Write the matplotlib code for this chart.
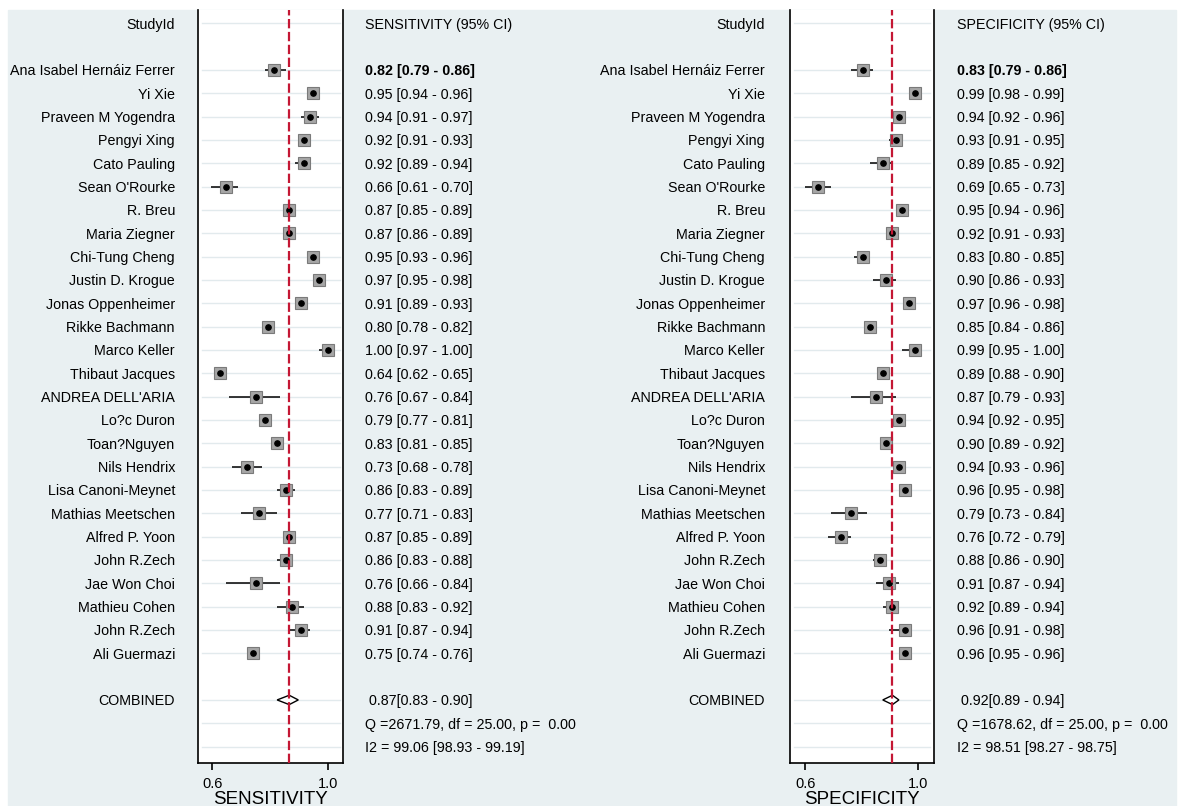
import matplotlib
matplotlib.use("Agg")
import matplotlib.pyplot as plt
from matplotlib.patches import Rectangle
from matplotlib.transforms import blended_transform_factory

plt.rcParams["font.family"] = ["Liberation Sans", "DejaVu Sans"]

# study names, top to bottom
studies = [
    "Ana Isabel Hernáiz Ferrer", "Yi Xie", "Praveen M Yogendra", "Pengyi Xing",
    "Cato Pauling", "Sean O'Rourke", "R. Breu", "Maria Ziegner", "Chi-Tung Cheng",
    "Justin D. Krogue", "Jonas Oppenheimer", "Rikke Bachmann", "Marco Keller",
    "Thibaut Jacques", "ANDREA DELL'ARIA", "Lo?c Duron", "Toan?Nguyen",
    "Nils Hendrix", "Lisa Canoni-Meynet", "Mathias Meetschen", "Alfred P. Yoon",
    "John R.Zech", "Jae Won Choi", "Mathieu Cohen", "John R.Zech", "Ali Guermazi",
]

sens = [0.82, 0.95, 0.94, 0.92, 0.92, 0.66, 0.87, 0.87, 0.95, 0.97, 0.91, 0.80, 1.00,
        0.64, 0.76, 0.79, 0.83, 0.73, 0.86, 0.77, 0.87, 0.86, 0.76, 0.88, 0.91, 0.75]
sens_lo = [0.79, 0.94, 0.91, 0.91, 0.89, 0.61, 0.85, 0.86, 0.93, 0.95, 0.89, 0.78, 0.97,
           0.62, 0.67, 0.77, 0.81, 0.68, 0.83, 0.71, 0.85, 0.83, 0.66, 0.83, 0.87, 0.74]
sens_hi = [0.86, 0.96, 0.97, 0.93, 0.94, 0.70, 0.89, 0.89, 0.96, 0.98, 0.93, 0.82, 1.00,
           0.65, 0.84, 0.81, 0.85, 0.78, 0.89, 0.83, 0.89, 0.88, 0.84, 0.92, 0.94, 0.76]

spec = [0.83, 0.99, 0.94, 0.93, 0.89, 0.69, 0.95, 0.92, 0.83, 0.90, 0.97, 0.85, 0.99,
        0.89, 0.87, 0.94, 0.90, 0.94, 0.96, 0.79, 0.76, 0.88, 0.91, 0.92, 0.96, 0.96]
spec_lo = [0.79, 0.98, 0.92, 0.91, 0.85, 0.65, 0.94, 0.91, 0.80, 0.86, 0.96, 0.84, 0.95,
           0.88, 0.79, 0.92, 0.89, 0.93, 0.95, 0.73, 0.72, 0.86, 0.87, 0.89, 0.91, 0.95]
spec_hi = [0.86, 0.99, 0.96, 0.95, 0.92, 0.73, 0.96, 0.93, 0.85, 0.93, 0.98, 0.86, 1.00,
           0.90, 0.93, 0.95, 0.92, 0.96, 0.98, 0.84, 0.79, 0.90, 0.94, 0.94, 0.98, 0.96]

# pooled estimates and heterogeneity
sens_comb = (0.87, 0.83, 0.90)
spec_comb = (0.92, 0.89, 0.94)
sens_q = "Q =2671.79, df = 25.00, p =  0.00"
spec_q = "Q =1678.62, df = 25.00, p =  0.00"
sens_i2 = "I2 = 99.06 [98.93 - 99.19]"
spec_i2 = "I2 = 98.51 [98.27 - 98.75]"

W, H = 1180, 806
BG = "#e9f0f2"
GRID = "#e2eaed"
FS = 10.3

fig = plt.figure(figsize=(W / 100, H / 100), dpi=100)
fig.patches.append(Rectangle((8 / W, 0), (1176 - 8) / W, (H - 10) / H,
                             transform=fig.transFigure, color=BG, zorder=-10))


def px_axes(x0, x1, y0, y1):
    return fig.add_axes([x0 / W, (H - y1) / H, (x1 - x0) / W, (y1 - y0) / H], zorder=2)


def forest(ax, est, lo, hi, comb, qtxt, i2txt, title, xlab, xlim, ticks,
           name_x, val_x):
    rows = [i + 2 for i in range(len(est))]
    crow = rows[-1] + 2
    ax.set_xlim(*xlim)
    ax.set_ylim(31.69, -0.57)
    ax.set_facecolor("white")

    for r in [0] + rows + [crow, crow + 1, crow + 2]:
        ax.axhline(r, xmin=0.025, xmax=0.975, color=GRID, lw=1, zorder=1)

    ax.hlines(rows, lo, hi, color="black", lw=1.1, zorder=2)
    ax.plot(est, rows, "s", ms=8.6, mfc="#a6a6a6", mec="#7a7a7a", mew=0.8, zorder=3)
    ax.plot(est, rows, "o", ms=3.8, color="black", zorder=4)

    e, l, h = comb
    d = 0.2
    ax.fill([l, e, h, e, l], [crow, crow - d, crow, crow + d, crow],
            facecolor="white", edgecolor="black", lw=1, zorder=3)
    ax.axvline(e, color="#c41734", lw=1.6, ls=(0, (4.2, 1.6)), zorder=5)

    for side in ["left", "right", "bottom"]:
        ax.spines[side].set_linewidth(1.2)
    ax.spines["top"].set_visible(False)
    ax.set_yticks([])
    ax.set_xticks(ticks)
    ax.set_xticklabels(["0.6", "1.0"])
    ax.tick_params(axis="x", length=5, width=1.2, pad=5.5, labelsize=10.5)
    ax.set_xlabel(xlab, fontsize=13.5, labelpad=0)

    tr_n = blended_transform_factory(fig.transFigure, ax.transData)
    kw = dict(transform=tr_n, va="center_baseline", fontsize=FS)
    ax.text(name_x / W, 0, "StudyId", ha="right", **kw)
    ax.text(val_x / W, 0, title, ha="left", **kw)
    for i, r in enumerate(rows):
        ax.text(name_x / W, r, studies[i], ha="right", **kw)
        ax.text(val_x / W, r, f"{est[i]:.2f} [{lo[i]:.2f} - {hi[i]:.2f}]", ha="left",
                fontweight="bold" if i == 0 else "normal", **kw)
    ax.text(name_x / W, crow, "COMBINED", ha="right", **kw)
    ax.text(val_x / W, crow, f" {e:.2f}[{l:.2f} - {h:.2f}]", ha="left", **kw)
    ax.text(val_x / W, crow + 1, qtxt, ha="left", **kw)
    ax.text(val_x / W, crow + 2, i2txt, ha="left", **kw)


ax1 = px_axes(198.3, 343.3, 10, 762.7)
forest(ax1, sens, sens_lo, sens_hi, sens_comb, sens_q, sens_i2,
       "SENSITIVITY (95% CI)", "SENSITIVITY", (0.569, 1.049), [0.616, 1.0], 175, 365)

ax2 = px_axes(790, 934, 10, 762.7)
forest(ax2, spec, spec_lo, spec_hi, spec_comb, spec_q, spec_i2,
       "SPECIFICITY (95% CI)", "SPECIFICITY", (0.602, 1.049), [0.649, 1.0], 765, 957)

fig.savefig("out.png", dpi=100, facecolor="white")
